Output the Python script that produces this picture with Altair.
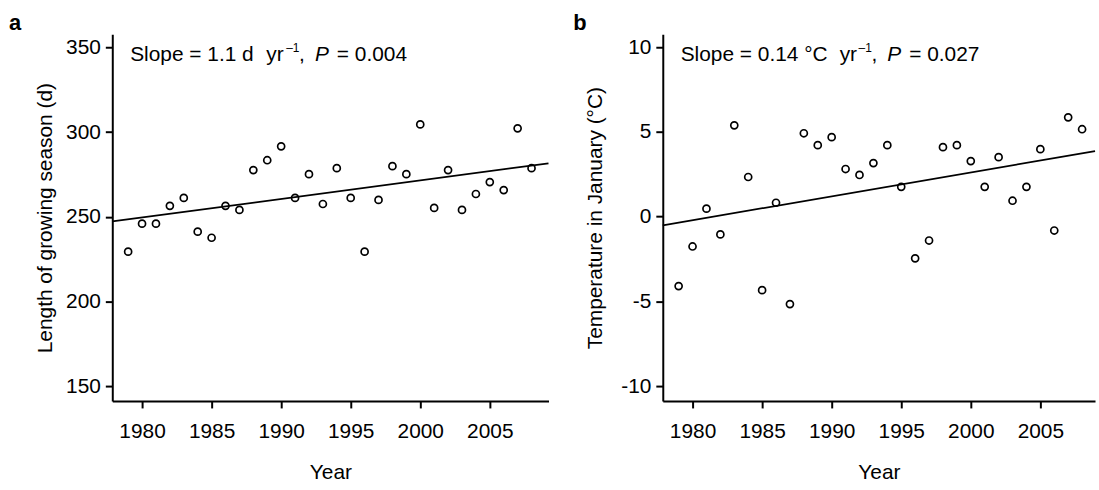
import altair as alt
import pandas as pd

FONT = "Liberation Sans"

years = list(range(1979, 2009))
season_length = [229.5, 246, 246, 256.5, 261.2, 241.3, 237.7, 256.5, 254.1, 277.6,
                 283.4, 291.6, 261.2, 275.2, 257.6, 278.7, 261.2, 229.5, 260, 279.9,
                 275.2, 304.5, 255.3, 277.6, 254.1, 263.5, 270.5, 265.8, 302.2, 278.7]
jan_temp = [-4.10, -1.76, 0.47, -1.05, 5.39, 2.34, -4.34, 0.82, -5.16, 4.92,
            4.22, 4.69, 2.81, 2.46, 3.16, 4.22, 1.76, -2.46, -1.41, 4.10,
            4.22, 3.28, 1.76, 3.51, 0.94, 1.76, 3.98, -0.82, 5.86, 5.16]
year_ticks = [1980, 1985, 1990, 1995, 2000, 2005]
season_ticks = [150, 200, 250, 300, 350]
temp_ticks = [-10, -5, 0, 5, 10]

df = pd.DataFrame({"year": years, "season": season_length, "temp": jan_temp})


def txt(s, x, y, size=21, style="normal", weight="normal", baseline="alphabetic"):
    return alt.Chart(alt.Data(values=[{}])).mark_text(
        text=s, align="left", baseline=baseline, font=FONT, fontSize=size,
        fontStyle=style, fontWeight=weight, color="black"
    ).encode(x=alt.value(x), y=alt.value(y))


def panel(col, ytitle, ydomain, yticks, xdomain, width, title_pad, letter, letter_x, frags):
    xenc = alt.X("year:Q", scale=alt.Scale(domain=xdomain, nice=False, zero=False),
                 axis=alt.Axis(values=year_ticks, title="Year", labelExpr="datum.value + ''",
                               labelPadding=13, titlePadding=20))
    yenc = alt.Y(f"{col}:Q", scale=alt.Scale(domain=ydomain, nice=False, zero=False),
                 axis=alt.Axis(values=yticks, title=ytitle, labelExpr="datum.value + ''",
                               labelPadding=5, titlePadding=title_pad))
    pts = alt.Chart(df).mark_point(shape="circle", filled=False, color="black",
                                   size=50, strokeWidth=1.7, opacity=1).encode(x=xenc, y=yenc)
    line = alt.Chart(df).transform_regression("year", col, extent=xdomain).mark_line(
        color="black", strokeWidth=1.8).encode(x="year:Q", y=f"{col}:Q")
    layers = [pts, line]
    for (s, x, y, size, style) in frags:
        layers.append(txt(s, x, y, size=size, style=style))
    layers.append(txt(letter, letter_x, -21, size=22, weight="bold", baseline="top"))
    return alt.layer(*layers).properties(width=width, height=369)


frags_a = [
    ("Slope = 1.1 d", 18, 27, 21, "normal"),
    ("yr", 155, 27, 21, "normal"),
    ("\u20131", 175, 18, 12, "normal"),
    (",", 188, 27, 21, "normal"),
    ("P", 204, 27, 21, "italic"),
    ("= 0.004", 226, 27, 21, "normal"),
]
frags_b = [
    ("Slope = 0.14 \u00b0C", 18, 27, 21, "normal"),
    ("yr", 178, 27, 21, "normal"),
    ("\u20131", 197, 18, 12, "normal"),
    (",", 210, 27, 21, "normal"),
    ("P", 226, 27, 21, "italic"),
    ("= 0.027", 248, 27, 21, "normal"),
]

pa = panel("season", "Length of growing season (d)", [141.5, 357.6], season_ticks,
           [1977.86, 2009.22], 439, 10, "a", -104, frags_a)
pb = panel("temp", "Temperature in January (\u00b0C)", [-10.88, 10.76], temp_ticks,
           [1977.86, 2008.93], 435, 15, "b", -90, frags_b)

chart = alt.hconcat(pa, pb, spacing=21).properties(
    padding={"left": 9, "top": 11, "right": 0, "bottom": 0}
).configure_axis(
    domainColor="black", domainWidth=2, tickColor="black", tickWidth=2, tickSize=7,
    labelFont=FONT, labelFontSize=21, labelColor="black",
    titleFont=FONT, titleFontSize=21, titleFontWeight="normal", titleColor="black",
    grid=False
).configure_view(stroke=None)

chart.save("out.html", embed_options={"renderer": "svg", "actions": False})
